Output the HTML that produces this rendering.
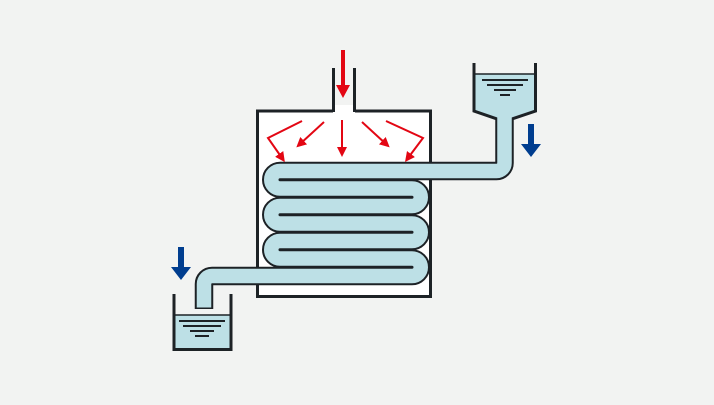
<!DOCTYPE html><html><head><style>body{margin:0;background:#f2f3f2}</style></head><body>
<svg width="714" height="400" viewBox="0 0 714 400" xmlns="http://www.w3.org/2000/svg">
<rect width="714" height="400" fill="#f2f3f2"/>
<defs>
<marker id="ra" markerWidth="5" markerHeight="5" refX="2.5" refY="2.5" orient="auto" markerUnits="strokeWidth"><path d="M0,0 L5,2.5 L0,5 z" fill="#e30613"/></marker>
</defs>
<path d="M333,111 H257.5 V296.5 H430.5 V111 H355" fill="#fff" stroke="#1d2226" stroke-width="3"/>
<rect x="334" y="105" width="20" height="8" fill="#fff"/>
<path d="M333.5,68 V112 M354.5,68 V112" stroke="#1d2226" stroke-width="3"/>
<path d="M474,74 H537 V110 L512,118 V130 H497 V118 L474,110 Z" fill="#bde0e6"/>
<path d="M474,63 V111 L497,119 V165 M535.5,63 V111 L512,119 V165" fill="none" stroke="#1d2226" stroke-width="3"/>
<path d="M474,74 H537" stroke="#1d2226" stroke-width="1.5"/>
<g stroke="#1d2226" stroke-width="2"><path d="M482,80H528M487,85H523M494,90H516M500,95H510"/></g>
<g fill="none" stroke-linejoin="round">
<path d="M504.5,118 V163 a8,8 0 0 1 -8,8 H280 a8.75,8.75 0 0 0 0,17.5 H412 a8.75,8.75 0 0 1 0,17.5 H280 a8.75,8.75 0 0 0 0,17.5 H412 a8.75,8.75 0 0 1 0,17.5 H280 a8.75,8.75 0 0 0 0,17.5 H412 a8.75,8.75 0 0 1 0,17.5 H212 a8,8 0 0 0 -8,8 V309" stroke="#1d2226" stroke-width="18.5"/>
<path d="M504.5,116 V163 a8,8 0 0 1 -8,8 H280 a8.75,8.75 0 0 0 0,17.5 H412 a8.75,8.75 0 0 1 0,17.5 H280 a8.75,8.75 0 0 0 0,17.5 H412 a8.75,8.75 0 0 1 0,17.5 H280 a8.75,8.75 0 0 0 0,17.5 H412 a8.75,8.75 0 0 1 0,17.5 H212 a8,8 0 0 0 -8,8 V307.5" stroke="#bde0e6" stroke-width="14.5"/>
</g>
<rect x="498" y="110" width="13" height="10" fill="#bde0e6"/>
<rect x="174" y="315" width="57" height="34" fill="#bde0e6"/>
<path d="M174,294 V349.5 H231 V294" fill="none" stroke="#1d2226" stroke-width="3"/>
<path d="M174,315 H231" stroke="#1d2226" stroke-width="1.5"/>
<g stroke="#1d2226" stroke-width="2"><path d="M179,321H225M183,326H221M190,331H214M195,336H209"/></g>
<path d="M528,124H534V144H541L531,157L521,144H528Z" fill="#003d8f"/>
<path d="M178,247H184V267H191L181,280L171,267H178Z" fill="#003d8f"/>
<path d="M341,50H345V85H350L343,98L336,85H341Z" fill="#e30613"/>
<g stroke="#e30613" stroke-width="2" fill="none" marker-end="url(#ra)">
<path d="M342,120V152"/>
<path d="M324,122L300,144"/>
<path d="M362,122L386,144"/>
<path d="M302,121L268,138L282,158"/>
<path d="M386,121L423,138L408,158"/>
</g>
</svg>
</body></html>
